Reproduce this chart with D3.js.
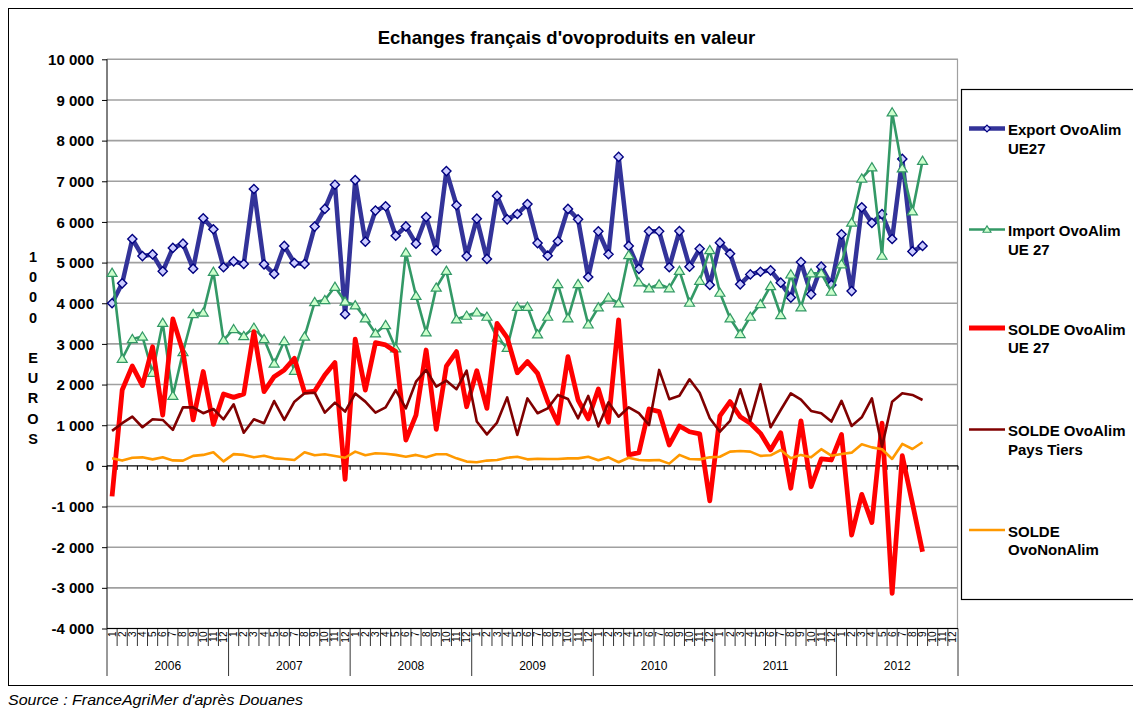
<!DOCTYPE html>
<html>
<head>
<meta charset="utf-8">
<script src="https://cdn.jsdelivr.net/npm/d3@7"></script>
<style>
  body { margin: 0; background: #fff; }
  svg { display: block; }
  text { font-family: "Liberation Sans", Arial, sans-serif; fill: #000; }
</style>
</head>
<body>
<svg id="chart" width="1133" height="711"></svg>
<script>
// Monthly values, thousands of euros, Jan 2006 - Sep 2012
const years = ["2006", "2007", "2008", "2009", "2010", "2011", "2012"];
const monthLabels = ["1", "2", "3", "4", "5", "6", "7", "8", "9", "10", "11", "12"];
const yTicks = [-4000, -3000, -2000, -1000, 0, 1000, 2000, 3000, 4000, 5000, 6000, 7000, 8000, 9000, 10000];

const exportUE27 = [
  4000, 4490, 5580, 5160, 5200, 4785, 5360, 5465, 4850, 6090, 5820, 4885,
  5030, 4965, 6810, 4958, 4720, 5410, 4990, 4965, 5885, 6320, 6915, 3730,
  7030, 5515, 6280, 6385, 5660, 5890, 5465, 6120, 5300, 7250, 6410, 5160,
  6080, 5090, 6640, 6065, 6195, 6440, 5480, 5170, 5525, 6320, 6065, 4645,
  5770, 5205, 7600, 5410, 4845, 5770, 5770, 4885, 5775, 4900, 5340, 4450,
  5490, 5220, 4465, 4710, 4775, 4810, 4505, 4140, 5015, 4220, 4900, 4450,
  5695, 4300, 6360, 5975, 6190, 5580, 7550, 5275, 5410
];
const importUE27 = [
  4750, 2635, 3120, 3180, 2290, 3520, 1725, 2800, 3735, 3770, 4775, 3095,
  3365, 3195, 3400, 3120, 2515, 3070, 2340, 3180, 4030, 4080, 4405, 4040,
  3950, 3630, 3260, 3465, 2890, 5245, 4185, 3285, 4385, 4800, 3605, 3695,
  3775, 3670, 3155, 2905, 3915, 3915, 3235, 3670, 4475, 3630, 4475, 3480,
  3900, 4140, 4000, 5185, 4515, 4370, 4465, 4370, 4800, 4015, 4555, 5310,
  4260, 3630, 3245, 3670, 3980, 4425, 3710, 4710, 3900, 4735, 4735, 4285,
  4960, 5985, 7070, 7345, 5170, 8695, 7320, 6260, 7505
];
const soldeUE27 = [
  -750, 1865, 2455, 1975, 2930, 1250, 3615, 2810, 1130, 2320, 1020, 1770,
  1685, 1770, 3300, 1825, 2195, 2360, 2645, 1810, 1840, 2235, 2540, -330,
  3115, 1865, 3030, 2975, 2810, 635, 1250, 2850, 900, 2455, 2810, 1455,
  2340, 1415, 3505, 3155, 2290, 2565, 2275, 1580, 1050, 2685, 1620, 1155,
  1890, 1070, 3590, 270, 325, 1400, 1335, 515, 980, 840, 785, -860,
  1230, 1580, 1210, 1050, 800, 390, 815, -550, 1105, -510, 170, 145,
  770, -1700, -700, -1395, 1050, -3135, 250, -920, -2110
];
const soldePaysTiers = [
  860, 1050, 1210, 950, 1145, 1130, 885, 1440, 1440, 1295, 1400, 1145,
  1515, 815, 1145, 1050, 1595, 1130, 1580, 1785, 1800, 1310, 1555, 1335,
  1780, 1580, 1310, 1440, 1865, 1415, 2070, 2360, 1950, 2095, 1885, 2340,
  1090, 775, 1065, 1685, 760, 1660, 1295, 1415, 1745, 1645, 1170, 1720,
  970, 1565, 1210, 1440, 1295, 1005, 2360, 1640, 1725, 2130, 1800, 1170,
  840, 1105, 1885, 1105, 2005, 950, 1375, 1785, 1630, 1350, 1295, 1090,
  1600, 980, 1195, 1660, 470, 1580, 1785, 1745, 1620
];
const soldeNonAlim = [
  185, 130, 200, 210, 160, 210, 135, 130, 245, 270, 335, 110,
  290, 270, 210, 250, 185, 170, 145, 335, 260, 285, 245, 200,
  350, 260, 310, 300, 270, 225, 270, 210, 285, 285, 185, 105,
  90, 130, 145, 200, 225, 160, 175, 170, 170, 185, 185, 225,
  140, 210, 90, 200, 145, 135, 145, 55, 270, 170, 160, 210,
  225, 350, 365, 350, 245, 260, 390, 185, 270, 210, 410, 250,
  290, 325, 530, 455, 410, 170, 540, 415, 580
];

const seriesNames = [
  ["Export OvoAlim", "UE27"],
  ["Import OvoAlim", "UE 27"],
  ["SOLDE OvoAlim", "UE 27"],
  ["SOLDE OvoAlim", "Pays Tiers"],
  ["SOLDE", "OvoNonAlim"]
];

const series = [
  { values: exportUE27, color: "#333399", width: 4.5, marker: "diamond" },
  { values: importUE27, color: "#339966", width: 2.6, marker: "triangle" },
  { values: soldeUE27, color: "#ff0000", width: 4.8, marker: null },
  { values: soldePaysTiers, color: "#800000", width: 2.6, marker: null },
  { values: soldeNonAlim, color: "#ff9900", width: 2.6, marker: null }
];

const svg = d3.select("#chart");

// Outer frame
svg.append("rect").attr("x", 8.5).attr("y", 8.5).attr("width", 1130).attr("height", 677)
  .attr("fill", "none").attr("stroke", "#000").attr("stroke-width", 1);

const plot = { left: 107, right: 958, top: 59.3, bottom: 628.5 };
const nCat = years.length * 12;

const x = d3.scaleBand().domain(d3.range(nCat)).range([plot.left, plot.right]).paddingInner(0).paddingOuter(0);
const xc = i => x(i) + x.bandwidth() / 2;
const y = d3.scaleLinear().domain([-4000, 10000]).range([plot.bottom, plot.top]);

const fmt = d3.formatLocale({ decimal: ",", thousands: " ", grouping: [3], currency: ["", ""], minus: "-" }).format(",");

// Title
svg.append("text").attr("x", 566.5).attr("y", 44).attr("text-anchor", "middle")
  .attr("font-size", 18.5).attr("font-weight", "bold")
  .text("Echanges français d'ovoproduits en valeur");

// Gridlines
svg.append("g").selectAll("line").data(yTicks.filter(d => d !== 0)).join("line")
  .attr("x1", plot.left).attr("x2", plot.right)
  .attr("y1", d => y(d)).attr("y2", d => y(d))
  .attr("stroke", "#a0a0a0").attr("stroke-width", 1.6);

// Plot area right border
svg.append("line").attr("x1", plot.right - 0.5).attr("x2", plot.right - 0.5)
  .attr("y1", plot.top).attr("y2", plot.bottom).attr("stroke", "#a0a0a0").attr("stroke-width", 1.2);

// Y axis
const yAxis = d3.axisLeft(y).tickValues(yTicks).tickFormat(fmt).tickSize(5).tickPadding(8);
const gy = svg.append("g").attr("transform", `translate(${plot.left},0)`).call(yAxis);
gy.select(".domain").attr("stroke", "#000").attr("d", `M-0.5,${plot.top}V${plot.bottom}`).attr("transform", "translate(0.5,0)");
gy.selectAll(".tick line").attr("stroke", "#000");
gy.selectAll(".tick text").attr("font-size", 15).attr("font-weight", "bold").attr("dy", "0.34em")
  .attr("font-family", "'Liberation Sans', Arial, sans-serif").attr("fill", "#000");

// Y axis title, one character per line
const yTitle = ["1", "0", "0", "0", "", "E", "U", "R", "O", "S"];
svg.append("g").selectAll("text").data(yTitle).join("text")
  .attr("x", 33).attr("y", (d, i) => 262 + i * 20.2)
  .attr("text-anchor", "middle").attr("font-size", 14.5).attr("font-weight", "bold")
  .text(d => d);

// Category axis along zero
const zeroY = y(0);
svg.append("line").attr("x1", plot.left).attr("x2", plot.right)
  .attr("y1", zeroY).attr("y2", zeroY).attr("stroke", "#000").attr("stroke-width", 1.2);
svg.append("g").selectAll("line").data(d3.range(nCat + 1)).join("line")
  .attr("x1", i => i < nCat ? x(i) : plot.right).attr("x2", i => i < nCat ? x(i) : plot.right)
  .attr("y1", zeroY).attr("y2", zeroY + 4).attr("stroke", "#000").attr("stroke-width", 1);

// Bottom category labels: months and years
const lab = svg.append("g");
lab.append("line").attr("x1", plot.left).attr("x2", plot.right).attr("y1", plot.bottom).attr("y2", plot.bottom)
  .attr("stroke", "#000").attr("stroke-width", 1);
lab.selectAll("line.sep").data(d3.range(nCat + 1)).join("line").attr("class", "sep")
  .attr("x1", i => i < nCat ? x(i) : plot.right).attr("x2", i => i < nCat ? x(i) : plot.right)
  .attr("y1", plot.bottom).attr("y2", i => i % 12 === 0 ? 676 : 646)
  .attr("stroke", "#000").attr("stroke-width", 0.8);
lab.selectAll("text.m").data(d3.range(nCat)).join("text").attr("class", "m")
  .attr("transform", i => `translate(${xc(i) + 3.5},${plot.bottom + 3}) rotate(-90)`)
  .attr("text-anchor", "end").attr("font-size", 10)
  .text(i => monthLabels[i % 12]);
lab.selectAll("text.yr").data(years).join("text").attr("class", "yr")
  .attr("x", (d, k) => (x(k * 12) + (k * 12 + 12 < nCat ? x(k * 12 + 12) : plot.right)) / 2)
  .attr("y", 670).attr("text-anchor", "middle").attr("font-size", 12)
  .text(d => d);

// Series lines
const line = d3.line().x((d, i) => xc(i)).y(d => y(d));
const diamond = "M0,-4.6L4.6,0L0,4.6L-4.6,0Z";
const triangle = "M0,-4.6L5,3.6L-5,3.6Z";

series.forEach(s => {
  const g = svg.append("g");
  g.append("path").datum(s.values).attr("d", line)
    .attr("fill", "none").attr("stroke", s.color).attr("stroke-width", s.width)
    .attr("stroke-linejoin", "round");
  if (s.marker === "diamond") {
    g.selectAll("path.mk").data(s.values).join("path").attr("class", "mk")
      .attr("transform", (d, i) => `translate(${xc(i)},${y(d)})`)
      .attr("d", diamond).attr("fill", "#ccccff").attr("stroke", "#000080").attr("stroke-width", 1.4);
  } else if (s.marker === "triangle") {
    g.selectAll("path.mk").data(s.values).join("path").attr("class", "mk")
      .attr("transform", (d, i) => `translate(${xc(i)},${y(d)})`)
      .attr("d", triangle).attr("fill", "#ccffcc").attr("stroke", "#339966").attr("stroke-width", 1.2);
  }
});

// Legend
const leg = svg.append("g");
leg.append("rect").attr("x", 961.5).attr("y", 89.5).attr("width", 180).attr("height", 510)
  .attr("fill", "#fff").attr("stroke", "#000").attr("stroke-width", 1.2);
const legY = [128.5, 229.5, 328, 429.5, 530];
series.forEach((s, k) => {
  const ly = legY[k];
  leg.append("line").attr("x1", 969).attr("x2", 1005).attr("y1", ly).attr("y2", ly)
    .attr("stroke", s.color).attr("stroke-width", s.width);
  if (s.marker === "diamond") {
    leg.append("path").attr("transform", `translate(987,${ly})`).attr("d", "M0,-3.4L3.4,0L0,3.4L-3.4,0Z")
      .attr("fill", "#ccccff").attr("stroke", "#000080").attr("stroke-width", 1.2);
  } else if (s.marker === "triangle") {
    leg.append("path").attr("transform", `translate(987,${ly})`).attr("d", "M0,-3.6L4,2.8L-4,2.8Z")
      .attr("fill", "#ccffcc").attr("stroke", "#339966").attr("stroke-width", 1.1);
  }
  const t = leg.append("text").attr("x", 1008).attr("y", ly + 6.5).attr("font-size", 15).attr("font-weight", "bold");
  t.append("tspan").attr("x", 1008).text(seriesNames[k][0]);
  t.append("tspan").attr("x", 1008).attr("dy", 18.5).text(seriesNames[k][1]);
});

// Source note
svg.append("text").attr("x", 8).attr("y", 705).attr("font-size", 14).attr("font-style", "italic")
  .attr("textLength", 295).attr("lengthAdjust", "spacingAndGlyphs")
  .text("Source : FranceAgriMer d'après Douanes");
</script>
</body>
</html>
